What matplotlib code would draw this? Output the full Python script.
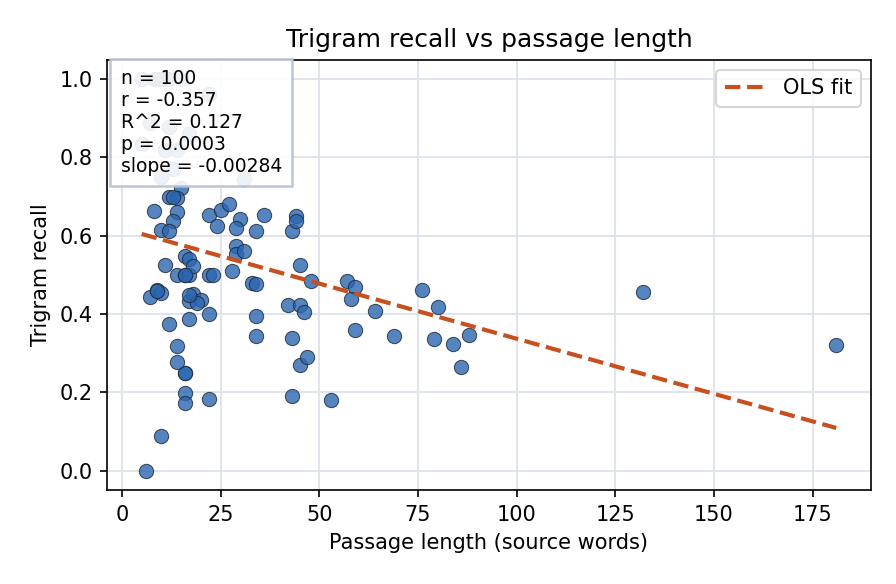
import numpy as np
import matplotlib
matplotlib.use("Agg")
import matplotlib.pyplot as plt

# passage length (source words) and trigram recall
passage_len = [
    6, 10, 16, 16, 22, 43, 53, 16, 16, 14,
    14, 12, 17, 22, 34, 34, 43, 45, 47, 42,
    45, 46, 45, 48, 7, 9, 10, 11, 17, 18,
    20, 19, 14, 16, 17, 16, 17, 18, 22, 23,
    28, 29, 29, 31, 33, 34, 34, 43, 57, 59,
    58, 59, 64, 69, 76, 80, 79, 84, 88, 86,
    132, 181, 15, 12, 14, 14, 8, 13, 10, 12,
    22, 25, 24, 27, 30, 29, 36, 44, 44, 31,
    10, 13, 11, 14, 5, 12, 17, 7, 22, 5,
    8, 9, 11, 15, 10, 12, 16, 17, 13, 9,
]
recall = [
    0.000, 0.089, 0.198, 0.174, 0.183, 0.190, 0.181, 0.250, 0.250, 0.278,
    0.319, 0.375, 0.388, 0.400, 0.395, 0.344, 0.339, 0.270, 0.291, 0.423,
    0.424, 0.406, 0.525, 0.484, 0.444, 0.461, 0.453, 0.525, 0.434, 0.452,
    0.436, 0.428, 0.500, 0.500, 0.500, 0.549, 0.541, 0.524, 0.500, 0.500,
    0.510, 0.575, 0.554, 0.562, 0.479, 0.477, 0.611, 0.611, 0.485, 0.470,
    0.439, 0.359, 0.408, 0.344, 0.462, 0.418, 0.336, 0.324, 0.347, 0.266,
    0.456, 0.322, 0.722, 0.700, 0.696, 0.662, 0.664, 0.637, 0.615, 0.611,
    0.654, 0.666, 0.625, 0.681, 0.643, 0.620, 0.654, 0.651, 0.637, 0.745,
    0.749, 0.770, 0.820, 0.820, 0.834, 0.877, 0.860, 0.889, 0.962, 1.000,
    1.000, 1.000, 1.000, 1.000, 1.000, 1.000, 0.500, 0.450, 0.700, 0.460,
]
stats_lines = ["n = 100", "r = -0.357", "R^2 = 0.127", "p = 0.0003", "slope = -0.00284"]

x = np.array(passage_len, dtype=float)
y = np.array(recall)
slope, intercept = np.polyfit(x, y, 1)

fig = plt.figure(figsize=(896 / 150, 584 / 150), dpi=150)
ax = fig.add_axes([0.1194, 0.1604, 0.8527, 0.7376])

ax.grid(True, color="#dde3ec", linewidth=0.9)
ax.set_axisbelow(True)

ax.scatter(x, y, s=47, color="#2a66b0", alpha=0.8, edgecolors="#1c2838",
           linewidths=0.5, zorder=3)
xs = np.array([x.min(), x.max()])
ax.plot(xs, intercept + slope * xs, "--", color="#c8501e", linewidth=2,
        label="OLS fit", zorder=4)

ax.text(0.018, 0.978, "\n".join(stats_lines), transform=ax.transAxes,
        va="top", ha="left", fontsize=9, zorder=5,
        bbox=dict(boxstyle="square,pad=0.55", facecolor="white", alpha=0.9,
                  edgecolor="#b4c0d0", linewidth=1.2))

ax.set_title("Trigram recall vs passage length", fontsize=12)
ax.set_xlabel("Passage length (source words)")
ax.set_ylabel("Trigram recall")
ax.legend(loc="upper right")

fig.savefig("out.png", dpi=150)
